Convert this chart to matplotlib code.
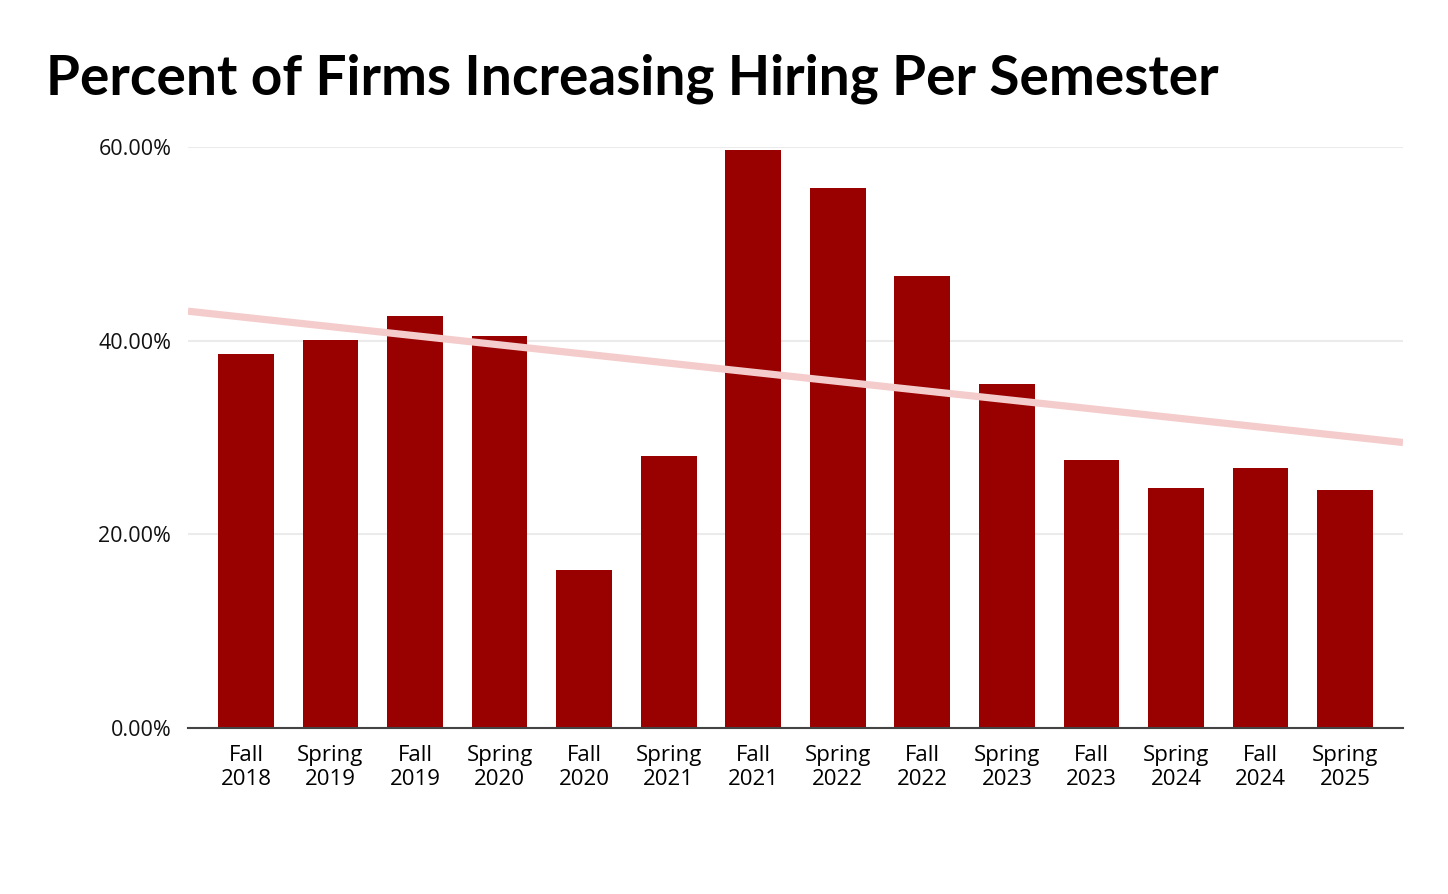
import numpy as np
import matplotlib
matplotlib.use("Agg")
import matplotlib.pyplot as plt

categories = ["Fall\n2018", "Spring\n2019", "Fall\n2019", "Spring\n2020", "Fall\n2020",
              "Spring\n2021", "Fall\n2021", "Spring\n2022", "Fall\n2022", "Spring\n2023",
              "Fall\n2023", "Spring\n2024", "Fall\n2024", "Spring\n2025"]
values = [38.6, 40.1, 42.5, 40.5, 16.3, 28.1, 59.7, 55.8, 46.7, 35.5, 27.7, 24.8, 26.8, 24.6]
yticks = [0, 20, 40, 60]
ytick_labels = ["0.00%", "20.00%", "40.00%", "60.00%"]
title = "Percent of Firms Increasing Hiring Per Semester"

W, H = 1448, 894
fig = plt.figure(figsize=(W / 100, H / 100), dpi=100)
ax = fig.add_axes([188 / W, 1 - 728 / H, (1403 - 188) / W, (728 - 147) / H])

x = np.arange(len(values))
bar_color = "#990000"
ax.bar(x, values, width=0.66, color=bar_color, zorder=3)

# trendline (linear fit)
xlim = (-0.685, len(values) - 1 + 0.685)
coef = np.polyfit(x, values, 1)
xt = np.array(xlim)
ax.plot(xt, np.polyval(coef, xt), color="#f4cccc", lw=5.2, zorder=4, solid_capstyle="butt")

ax.set_xlim(*xlim)
ax.set_ylim(0, 60)
ax.set_yticks(yticks)
ax.set_yticklabels(ytick_labels, fontsize=15.5, family="Open Sans", color="#111111")
ax.set_xticks(x)
ax.set_xticklabels(categories, fontsize=16, family="Open Sans", color="#000000", linespacing=1.2)
ax.tick_params(axis="both", length=0)
ax.tick_params(axis="y", pad=12)
ax.tick_params(axis="x", pad=12)
ax.grid(axis="y", color="#ebebeb", lw=1.5, zorder=0)
ax.set_axisbelow(True)
for s in ["top", "right", "left"]:
    ax.spines[s].set_visible(False)
ax.spines["bottom"].set_color("#444444")
ax.spines["bottom"].set_linewidth(1.5)
ax.spines["bottom"].set_zorder(5)

t = fig.text(46 / W, 1 - 95 / H, title, fontsize=38, fontweight="bold", family="Lato",
             ha="left", va="baseline", color="#000000")
fig.canvas.draw()
wpx = t.get_window_extent().width
t.set_fontsize(38 * 1174 / wpx)

fig.savefig("out.png", dpi=100, facecolor="white")
